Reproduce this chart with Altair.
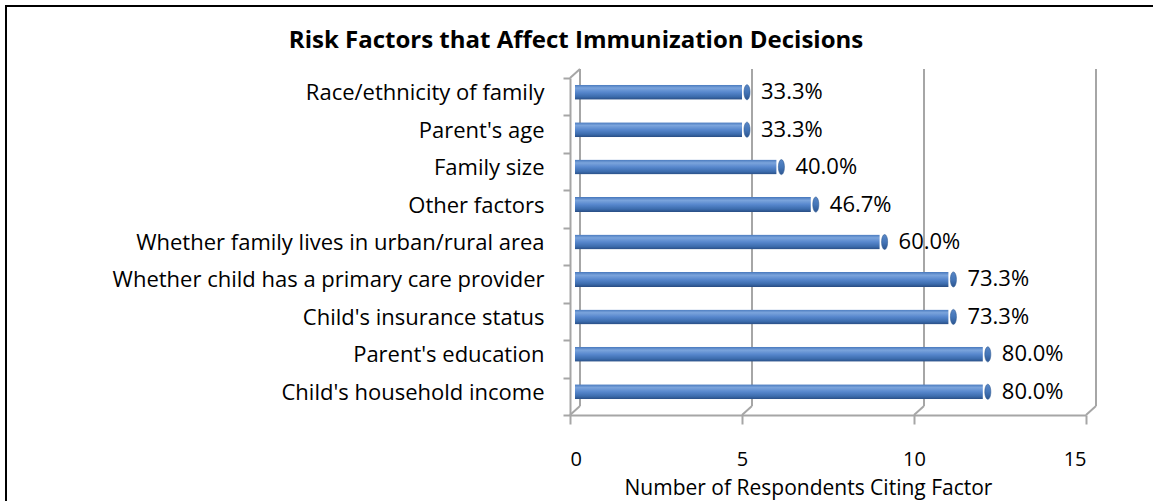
import altair as alt
import pandas as pd

# ---- data ----
factors = [
    "Race/ethnicity of family",
    "Parent's age",
    "Family size",
    "Other factors",
    "Whether family lives in urban/rural area",
    "Whether child has a primary care provider",
    "Child's insurance status",
    "Parent's education",
    "Child's household income",
]
respondents = [5, 5, 6, 7, 9, 11, 11, 12, 12]
shares = ["33.3%", "33.3%", "40.0%", "46.7%", "60.0%", "73.3%", "73.3%", "80.0%", "80.0%"]
x_ticks = [0, 5, 10, 15]
title_text = "Risk Factors that Affect Immunization Decisions"

# ---- layout / style ----
W, H = 516, 337            # front plane of the 3-D box
DX, DY = 10, -9            # depth of the box (back wall offset)
MX, MY = 5, -4.5           # bars sit half way into the box
FONT = "Open Sans"
FS = 22
GRID = "#a6a6a6"

bars_df = pd.DataFrame({"factor": factors, "n": respondents, "share": shares})
ticks_df = pd.DataFrame({"t": x_ticks})
origin_df = pd.DataFrame({"t": [0]})
title_df = pd.DataFrame({"title": [title_text]})

x_scale = alt.Scale(domain=[0, 15], nice=False, zero=True)
y_scale = alt.Scale(domain=factors, paddingInner=0, paddingOuter=0)

x_axis = alt.Axis(
    values=x_ticks, grid=False, domainColor=GRID, domainWidth=2,
    tickColor=GRID, tickWidth=2, tickSize=9,
    labelFont=FONT, labelFontSize=20, labelColor="black", labelPadding=25,
    title="Number of Respondents Citing Factor", titleFont=FONT,
    titleFontSize=21, titleFontWeight="normal", titleColor="black",
    titlePadding=8, titleX=238,
)
y_axis = alt.Axis(
    title=None, domainColor=GRID, domainWidth=2,
    tickColor=GRID, tickWidth=2, tickSize=7, tickBand="extent",
    labelFont=FONT, labelFontSize=FS, labelColor="black",
    labelPadding=19, labelOffset=-4, labelLimit=700,
)

X = alt.X("n:Q", scale=x_scale, axis=x_axis)
Y = alt.Y("factor:N", scale=y_scale, sort=factors, axis=y_axis)

# outer frame of the chart area (left and top edges)
frame_left = alt.Chart(origin_df).mark_rule(color="black", strokeWidth=2).encode(
    x=alt.value(-564), y=alt.value(-72), y2=alt.value(H + 90)
)
frame_top = alt.Chart(origin_df).mark_rule(color="black", strokeWidth=2).encode(
    x=alt.value(-565), x2=alt.value(W + 80), y=alt.value(-72)
)

# chart heading, centred on the whole canvas
heading = alt.Chart(title_df).mark_text(
    align="center", baseline="alphabetic", font=FONT, fontSize=24,
    fontWeight="bold", color="black",
).encode(x=alt.value(6), y=alt.value(-30), text="title:N")

# back wall gridlines
back_grid = alt.Chart(ticks_df).mark_rule(
    color=GRID, strokeWidth=2, xOffset=DX, yOffset=DY, y2Offset=DY
).encode(
    x=alt.X("t:Q", scale=x_scale, axis=x_axis),
    y=alt.value(0), y2=alt.value(H),
)

# floor edges joining front axis ticks to the back wall
floor = alt.Chart(ticks_df).mark_rule(color=GRID, strokeWidth=2, x2Offset=DX).encode(
    x=alt.X("t:Q", scale=x_scale, axis=x_axis), x2="t:Q",
    y=alt.value(H), y2=alt.value(H + DY),
)

# top edge of the side wall
side_top = alt.Chart(origin_df).mark_rule(color=GRID, strokeWidth=2, x2Offset=DX).encode(
    x=alt.X("t:Q", scale=x_scale, axis=x_axis), x2="t:Q",
    y=alt.value(0), y2=alt.value(DY),
)

cyl_fill = alt.Gradient(
    gradient="linear", x1=0, y1=0, x2=0, y2=1,
    stops=[
        alt.GradientStop(color="#4677bc", offset=0),
        alt.GradientStop(color="#7ba4dc", offset=0.22),
        alt.GradientStop(color="#5787cd", offset=0.5),
        alt.GradientStop(color="#3c6cad", offset=0.8),
        alt.GradientStop(color="#284c82", offset=1),
    ],
)
cap_fill = alt.Gradient(
    gradient="linear", x1=0, y1=0, x2=0, y2=1,
    stops=[
        alt.GradientStop(color="#5886c6", offset=0),
        alt.GradientStop(color="#4576b8", offset=0.5),
        alt.GradientStop(color="#2c5590", offset=1),
    ],
)

bars = alt.Chart(bars_df).mark_bar(
    size=15, color=cyl_fill, xOffset=MX, x2Offset=MX, yOffset=MY,
    cornerRadiusTopLeft=3, cornerRadiusBottomLeft=3,
).encode(x=X, y=Y)

caps = alt.Chart(bars_df).mark_point(
    shape="M0,-1 A0.4,1 0 1,1 0,1 A0.4,1 0 1,1 0,-1 Z",
    size=225, filled=True, fill=cap_fill, stroke="#2f5a92", strokeWidth=0.6,
    opacity=1, xOffset=MX, yOffset=MY,
).encode(x=X, y=Y)

labels = alt.Chart(bars_df).mark_text(
    align="left", baseline="middle", dx=19, dy=MY, font=FONT, fontSize=FS, color="black"
).encode(x=X, y=Y, text="share:N")

chart = alt.layer(
    frame_left, frame_top, heading, back_grid, floor, side_top, bars, caps, labels
).properties(
    width=W, height=H,
    background="white",
    autosize=alt.AutoSizeParams(type="none"),
    padding={"left": 570, "top": 78, "right": 67, "bottom": 86},
).configure_view(stroke=None)

chart.save("out.html", embed_options={"renderer": "svg", "actions": False})
